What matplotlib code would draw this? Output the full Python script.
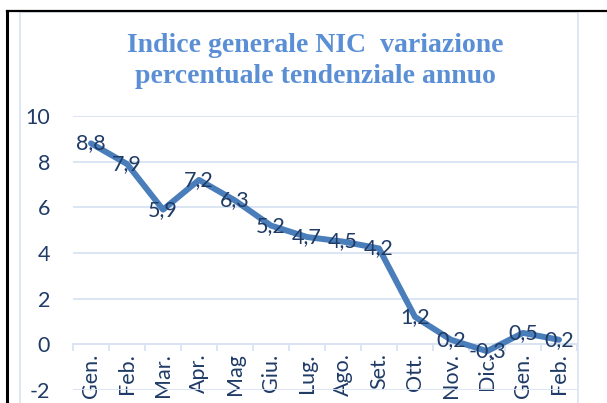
import numpy as np
import matplotlib
matplotlib.use("Agg")
from matplotlib import pyplot as plt
from matplotlib.patches import Rectangle
from matplotlib.lines import Line2D

# mesi (gen. anno 1 -> feb. anno 2)
months = ["Gen.", "Feb.", "Mar.", "Apr.", "Mag", "Giu.", "Lug.", "Ago.",
          "Set.", "Ott.", "Nov.", "Dic.", "Gen.", "Feb."]
# variazione percentuale tendenziale
values = [8.8, 7.9, 5.9, 7.2, 6.3, 5.2, 4.7, 4.5, 4.2, 1.2, 0.2, -0.3, 0.5, 0.2]
yticks = [-2, 0, 2, 4, 6, 8, 10]

title = "Indice generale NIC  variazione\npercentuale tendenziale annuo"

navy = "#1F3B66"
lineblue = "#4A7EBB"
gridblue = "#D9E3F2"
titleblue = "#5A8FD5"

fig = plt.figure(figsize=(6.07, 4.03), dpi=100)
W, H = 607, 403

# cornice esterna nera e bordo del grafico
fig.add_artist(Line2D([7 / W, 1.0], [1 - 11 / H, 1 - 11 / H], color="black", lw=1.6))
fig.add_artist(Line2D([7 / W, 7 / W], [0, 1 - 11 / H], color="black", lw=2.2))
fig.add_artist(Rectangle((20 / W, -0.1), 558 / W, 1 - 12 / H + 0.1,
                         fill=False, ec=gridblue, lw=1.2))

ax = fig.add_axes([73 / W, 13 / H, 504 / W, 274 / H])
x = np.arange(len(values))
ax.plot(x, values, color=lineblue, lw=4.3, solid_joinstyle="round",
        solid_capstyle="round", zorder=3)

for xi, v in zip(x, values):
    ax.text(xi, v, ("%.1f" % v).replace(".", ","), ha="center", va="center",
            color=navy, fontsize=15.5, family="Lato", zorder=4)

ax.set_xlim(-0.5, len(values) - 0.5)
ax.set_ylim(-2, 10)
ax.set_yticks(yticks)
ax.set_yticklabels([str(t) for t in yticks])
ax.grid(axis="y", color=gridblue, lw=1.3)
ax.set_axisbelow(True)

for s in ["top", "right", "left"]:
    ax.spines[s].set_visible(False)
ax.spines["bottom"].set_position(("data", 0))
ax.spines["bottom"].set_color(gridblue)
ax.spines["bottom"].set_linewidth(1.3)

ax.set_xticks(x)
ax.set_xticklabels(months, rotation=90, va="top", ha="center")
ax.set_xticks(np.arange(-0.5, len(values)), minor=True)
ax.tick_params(axis="x", which="major", length=0, pad=6.5, labelsize=15.5,
               labelcolor=navy)
ax.tick_params(axis="x", which="minor", length=5, color=gridblue, width=1.3)
ax.tick_params(axis="y", length=0, pad=16.5, labelsize=15.5, labelcolor=navy)
for lab in ax.get_xticklabels() + ax.get_yticklabels():
    lab.set_family("Lato")

fig.text(315 / W, 1 - 61 / H, title, ha="center", va="center",
         color=titleblue, fontsize=20, fontweight="bold",
         family="Liberation Serif", linespacing=1.32)

fig.savefig("out.png", dpi=100)
